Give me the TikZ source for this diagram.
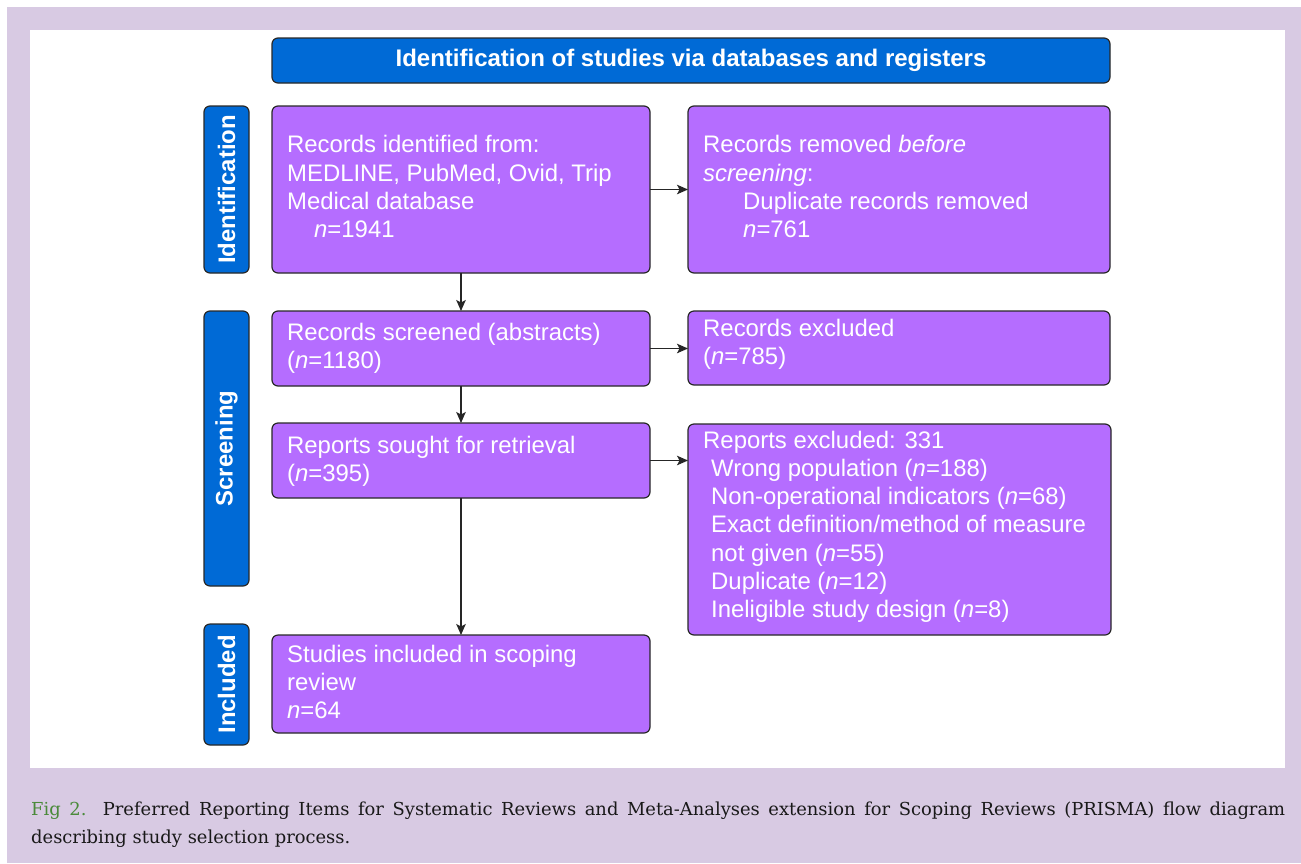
\documentclass[tikz,border=0pt]{standalone}
\usepackage{fontspec}
\setmainfont{Liberation Sans}
\newfontfamily\capfont{DejaVu Serif}
\usetikzlibrary{arrows.meta}
\definecolor{bgpurple}{RGB}{216,202,227}
\definecolor{boxblue}{RGB}{0,106,214}
\definecolor{boxpurple}{RGB}{181,109,255}
\definecolor{edgegray}{RGB}{40,40,40}
\definecolor{figgreen}{RGB}{74,138,58}
\definecolor{captext}{RGB}{25,25,25}
\begin{document}
\begin{tikzpicture}[x=1pt,y=-1pt,
  box/.style={draw=edgegray, line width=1.2pt, rounded corners=6pt, anchor=north west, inner sep=0pt, outer sep=0pt},
  pbox/.style={box, fill=boxpurple},
  bbox/.style={box, fill=boxblue},
  txt/.style={anchor=base west, inner sep=0pt, text=white, font=\fontsize{23.9}{28.3}\selectfont},
  side/.style={text=white, font=\fontsize{23.9}{28.3}\selectfont\bfseries, rotate=90, inner sep=0pt},
  arr/.style={draw=black!85, line width=1.3pt, -{Stealth[length=11pt,width=9.5pt,inset=2.5pt]}},
  captxt/.style={anchor=base west, inner sep=0pt, text=captext, font=\capfont\fontsize{17.9}{28}\selectfont}]

\path[use as bounding box] (0,0) rectangle (1301,863);
\fill[bgpurple] (7,7) rectangle (1301,863);
\fill[white] (30,30) rectangle (1285,768);

% title
\node[bbox, minimum width=838pt, minimum height=45pt, text=white,
      font=\fontsize{24}{28.3}\selectfont\bfseries] (title) at (272,38)
      {Identification of studies via databases and registers};

% side boxes
\node[bbox, minimum width=45pt, minimum height=167pt] (s1) at (204,106) {};
\node[bbox, minimum width=45pt, minimum height=275pt] (s2) at (204,311) {};
\node[bbox, minimum width=45pt, minimum height=121pt] (s3) at (204,624) {};
\node[side] (l1) at (s1.center) {Identification};
\node[side] (l2) at (s2.center) {Screening};
\node[side] (l3) at (s3.center) {Included};

% purple boxes
\node[pbox, minimum width=378pt, minimum height=167pt] (b1) at (272,106) {};
\node[pbox, minimum width=422pt, minimum height=167pt] (b2) at (688,106) {};
\node[pbox, minimum width=378pt, minimum height=75pt] (b3) at (272,311) {};
\node[pbox, minimum width=422pt, minimum height=74pt] (b4) at (688,311) {};
\node[pbox, minimum width=378pt, minimum height=75pt] (b5) at (272,423) {};
\node[pbox, minimum width=423pt, minimum height=211pt] (b6) at (688,424) {};
\node[pbox, minimum width=378pt, minimum height=98pt] (b7) at (272,635) {};

% texts
\node[txt] (t1) at (287,152.7) {\parbox[t]{360pt}{Records identified from:\\MEDLINE, PubMed, Ovid, Trip\\Medical database\\\hspace*{27pt}\textit{n}=1941}};
\node[txt] (t2) at (703,152.7) {\parbox[t]{400pt}{Records removed \textit{before}\\\textit{screening}:\\\hspace*{40pt}Duplicate records removed\\\hspace*{40pt}\textit{n}=761}};
\node[txt] (t3) at (287,340) {\parbox[t]{360pt}{Records screened (abstracts)\\(\textit{n}=1180)}};
\node[txt] (t4) at (703,336) {\parbox[t]{400pt}{Records excluded\\(\textit{n}=785)}};
\node[txt] (t5) at (287,453) {\parbox[t]{360pt}{Reports sought for retrieval\\(\textit{n}=395)}};
\node[txt] (t6) at (703,448) {\parbox[t]{405pt}{Reports excluded: 331\\
\hspace*{8pt}Wrong population (\textit{n}=188)\\
\hspace*{8pt}Non-operational indicators (\textit{n}=68)\\
\hspace*{8pt}Exact definition/method of measure\\
\hspace*{8pt}not given (\textit{n}=55)\\
\hspace*{8pt}Duplicate (\textit{n}=12)\\
\hspace*{8pt}Ineligible study design (\textit{n}=8)}};
\node[txt] (t7) at (287,662) {\parbox[t]{360pt}{Studies included in scoping\\review\\\textit{n}=64}};

% arrows
\draw[arr] (b1) -- (b2);
\draw[arr] (b1) -- (b3);
\draw[arr] (b3.east) -- (b3.east -| b4.west);
\draw[arr] (b3) -- (b5);
\draw[arr] (b5.east) -- (b5.east -| b6.west);
\draw[arr] (b5) -- (b7);

% caption
\node[captxt] (cap1) at (31,815) {\makebox[1254pt][s]{\textcolor{figgreen}{Fig 2.} Preferred Reporting Items for Systematic Reviews and Meta-Analyses extension for Scoping Reviews (PRISMA) flow diagram}};
\node[captxt] (cap2) at (31,843) {describing study selection process.};
\end{tikzpicture}
\end{document}
